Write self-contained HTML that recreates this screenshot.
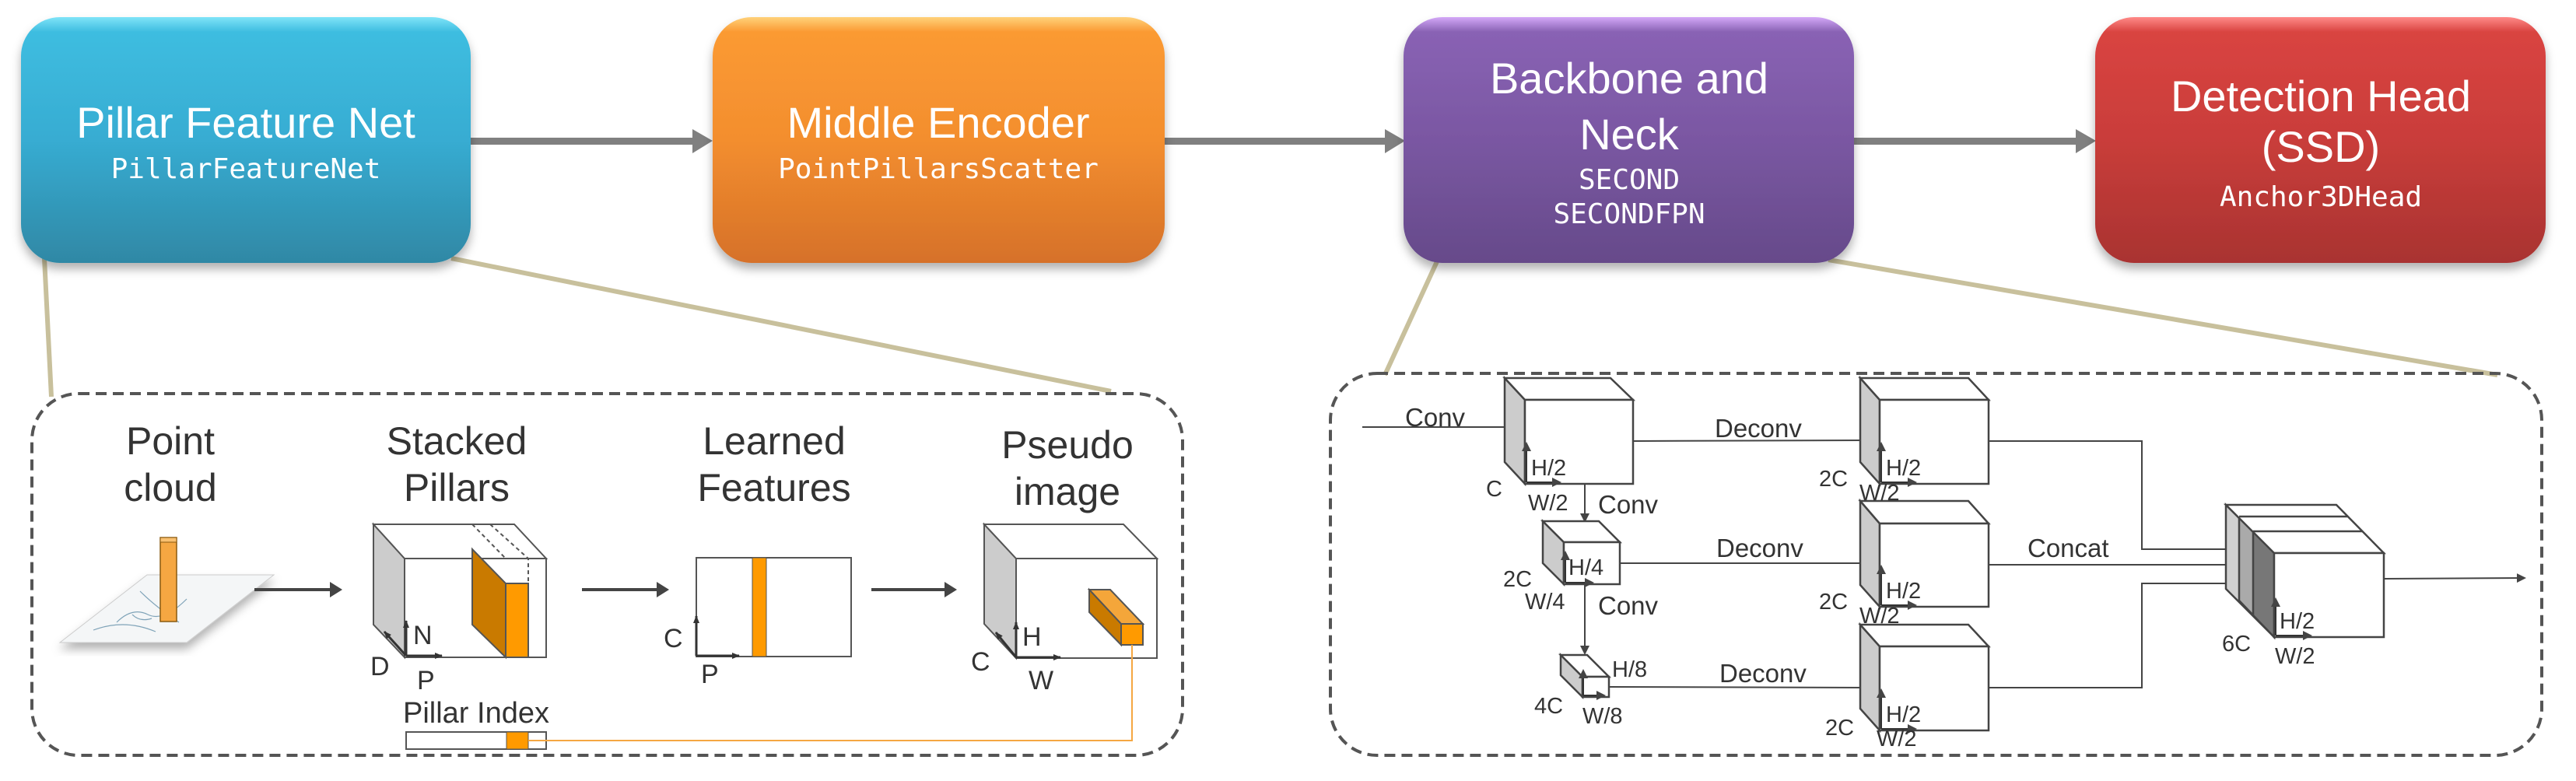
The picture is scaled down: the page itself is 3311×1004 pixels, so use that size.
<!DOCTYPE html>
<html><head><meta charset="utf-8"><style>
html,body{margin:0;padding:0;background:#fff;}
svg{display:block;}
.t{font-family:"Liberation Sans",sans-serif;fill:#fff;text-anchor:middle;}
.m{font-family:"DejaVu Sans Mono","Liberation Mono",monospace;fill:#fff;text-anchor:middle;}
.l{font-family:"Liberation Sans",sans-serif;fill:#333;text-anchor:middle;}
.s{font-family:"Liberation Sans",sans-serif;fill:#333;}
</style></head><body>
<svg width="3311" height="1004" viewBox="0 0 3311 1004" xmlns="http://www.w3.org/2000/svg">
<defs>
<linearGradient id="gb" x1="0" y1="0" x2="0" y2="1"><stop offset="0" stop-color="#7fe4f8"/><stop offset="0.06" stop-color="#3ebde0"/><stop offset="0.5" stop-color="#37acd2"/><stop offset="1" stop-color="#2f88a5"/></linearGradient>
<linearGradient id="go" x1="0" y1="0" x2="0" y2="1"><stop offset="0" stop-color="#ffd27a"/><stop offset="0.06" stop-color="#fb9a33"/><stop offset="0.5" stop-color="#f38e2e"/><stop offset="1" stop-color="#d6712a"/></linearGradient>
<linearGradient id="gp" x1="0" y1="0" x2="0" y2="1"><stop offset="0" stop-color="#d4a8f8"/><stop offset="0.06" stop-color="#8962b4"/><stop offset="0.5" stop-color="#7a57a2"/><stop offset="1" stop-color="#664a8a"/></linearGradient>
<linearGradient id="gr" x1="0" y1="0" x2="0" y2="1"><stop offset="0" stop-color="#ff8a88"/><stop offset="0.06" stop-color="#d94441"/><stop offset="0.5" stop-color="#c93d3a"/><stop offset="1" stop-color="#a93331"/></linearGradient>
<filter id="sh" x="-10%" y="-10%" width="120%" height="130%"><feDropShadow dx="0" dy="8" stdDeviation="6" flood-color="#000" flood-opacity="0.3"/></filter>
<marker id="ah" markerWidth="6" markerHeight="6" refX="5" refY="3" orient="auto" markerUnits="strokeWidth"><path d="M0,0 L6,3 L0,6 z" fill="#444"/></marker>
<marker id="as" markerWidth="10" markerHeight="8" refX="9" refY="4" orient="auto" markerUnits="userSpaceOnUse"><path d="M0,0 L10,4 L0,8 z" fill="#333"/></marker>
</defs>

<g fill="#808080">
<rect x="600" y="177" width="295" height="9"/><path d="M890,166 L916,181 L890,197 z"/>
<rect x="1490" y="177" width="295" height="9"/><path d="M1780,166 L1806,181 L1780,197 z"/>
<rect x="2380" y="177" width="292" height="9"/><path d="M2668,166 L2694,181 L2668,197 z"/>
</g>

<g stroke="#c8c09c" stroke-width="6" fill="none">
<line x1="57" y1="332" x2="66" y2="510"/>
<line x1="580" y1="332" x2="1428" y2="503"/>
<line x1="1848" y1="334" x2="1780" y2="482"/>
<line x1="2350" y1="334" x2="3210" y2="482"/>
</g>

<g filter="url(#sh)">
<rect x="27" y="22" width="578" height="316" rx="50" fill="url(#gb)"/>
<rect x="916" y="22" width="581" height="316" rx="50" fill="url(#go)"/>
<rect x="1804" y="22" width="579" height="316" rx="50" fill="url(#gp)"/>
<rect x="2693" y="22" width="579" height="316" rx="50" fill="url(#gr)"/>
</g>
<text class="t" x="316" y="177" font-size="56">Pillar Feature Net</text>
<text class="m" x="316" y="229" font-size="36">PillarFeatureNet</text>
<text class="t" x="1206" y="177" font-size="56">Middle Encoder</text>
<text class="m" x="1206" y="229" font-size="36">PointPillarsScatter</text>
<text class="t" x="2094" y="120" font-size="56">Backbone and</text>
<text class="t" x="2094" y="192" font-size="56">Neck</text>
<text class="m" x="2094" y="243" font-size="36">SECOND</text>
<text class="m" x="2094" y="287" font-size="36">SECONDFPN</text>
<text class="t" x="2983" y="143" font-size="56">Detection Head</text>
<text class="t" x="2983" y="208" font-size="56">(SSD)</text>
<text class="m" x="2983" y="265" font-size="36">Anchor3DHead</text>

<rect x="41" y="506" width="1479" height="465" rx="60" fill="none" stroke="#555" stroke-width="4" stroke-dasharray="14 8"/>
<rect x="1710" y="480" width="1557" height="491" rx="60" fill="none" stroke="#555" stroke-width="4" stroke-dasharray="14 8"/>

<g font-size="50">
<text class="l" x="219" y="584">Point</text><text class="l" x="219" y="644">cloud</text>
<text class="l" x="587" y="584">Stacked</text><text class="l" x="587" y="644">Pillars</text>
<text class="l" x="995" y="584">Learned</text><text class="l" x="995" y="644">Features</text>
<text class="l" x="1372" y="589">Pseudo</text><text class="l" x="1372" y="649">image</text>
</g>

<path d="M189,739 L352,739 L240,826 L77,826 z" fill="#f4f6f7" stroke="#ccc" stroke-width="1" filter="url(#sh)"/>
<g stroke="#7fa3b8" stroke-width="1.2" fill="none">
<path d="M150,800 Q170,780 190,790 T240,770"/><path d="M120,810 Q160,795 200,812"/><path d="M180,760 Q200,780 230,800"/><path d="M170,790 q10,10 25,5"/>
</g>
<rect x="206" y="691" width="21" height="108" fill="#f5a742" stroke="#8a5a10" stroke-width="1.5"/>
<rect x="206" y="691" width="21" height="6" fill="#f9c070" stroke="#8a5a10" stroke-width="1"/>

<g stroke="#444" stroke-width="4" fill="#444">
<line x1="327" y1="758" x2="426" y2="758"/><path d="M424,748 L440,758 L424,768 z" stroke="none"/>
<line x1="748" y1="758" x2="846" y2="758"/><path d="M844,748 L860,758 L844,768 z" stroke="none"/>
<line x1="1120" y1="758" x2="1216" y2="758"/><path d="M1214,748 L1230,758 L1214,768 z" stroke="none"/>
</g>

<g stroke="#555" stroke-width="2">
<path d="M480,674 L520,718 L520,845 L480,803 z" fill="#ccc"/>
<path d="M480,674 L661,674 L702,718 L520,718 z" fill="#fff"/>
<rect x="520" y="718" width="182" height="127" fill="#fff"/>
<path d="M607,674 L650,718" fill="none" stroke-dasharray="5 4"/>
<path d="M630,674 L679,718 L679,750" fill="none" stroke-dasharray="5 4"/>
<path d="M607,706 L650,750 L650,845 L607,803 z" fill="#c97a00"/>
<rect x="650" y="750" width="29" height="95" fill="#ff9a00"/>
</g>
<g stroke="#333" stroke-width="3" fill="none">
<line x1="522" y1="843" x2="522" y2="798" marker-end="url(#as)"/>
<line x1="522" y1="843" x2="568" y2="843" marker-end="url(#as)"/>
<line x1="522" y1="843" x2="494" y2="812" marker-end="url(#as)"/>
</g>
<g font-size="34"><text class="s" x="531" y="828">N</text><text class="s" x="476" y="868">D</text><text class="s" x="536" y="886">P</text></g>

<rect x="895" y="717" width="199" height="127" fill="#fff" stroke="#555" stroke-width="2"/>
<rect x="967" y="717" width="18" height="127" fill="#ff9a00" stroke="#555" stroke-width="1"/>
<g stroke="#333" stroke-width="3" fill="none">
<line x1="895" y1="843" x2="895" y2="792" marker-end="url(#as)"/>
<line x1="895" y1="843" x2="950" y2="843" marker-end="url(#as)"/>
</g>
<g font-size="34"><text class="s" x="853" y="832">C</text><text class="s" x="901" y="878">P</text></g>

<g stroke="#555" stroke-width="2">
<path d="M1265,674 L1306,718 L1306,846 L1265,802 z" fill="#ccc"/>
<path d="M1265,674 L1444,674 L1487,718 L1306,718 z" fill="#fff"/>
<rect x="1306" y="718" width="181" height="128" fill="#fff"/>
<path d="M1400,758 L1427,758 L1469,802 L1441,802 z" fill="#f4a63a"/>
<path d="M1400,758 L1441,802 L1441,829 L1400,787 z" fill="#c97a00"/>
<rect x="1441" y="802" width="28" height="27" fill="#ff9a00"/>
</g>
<g stroke="#333" stroke-width="3" fill="none">
<line x1="1306" y1="845" x2="1306" y2="800" marker-end="url(#as)"/>
<line x1="1306" y1="845" x2="1363" y2="845" marker-end="url(#as)"/>
<line x1="1306" y1="845" x2="1280" y2="813" marker-end="url(#as)"/>
</g>
<g font-size="34"><text class="s" x="1314" y="830">H</text><text class="s" x="1248" y="862">C</text><text class="s" x="1322" y="886">W</text></g>

<text class="l" x="612" y="929" font-size="38">Pillar Index</text>
<rect x="522" y="941" width="180" height="22" fill="#fff" stroke="#555" stroke-width="2"/>
<rect x="651" y="941" width="28" height="22" fill="#ff9a00" stroke="#555" stroke-width="1"/>
<polyline points="679,952 1455,952 1455,829" fill="none" stroke="#f5a742" stroke-width="2"/>

<g stroke="#444" stroke-width="2" fill="none">
<line x1="1751" y1="549" x2="1943" y2="549" marker-end="url(#ah)"/>
<line x1="2099" y1="567" x2="2400" y2="566" marker-end="url(#ah)"/>
<line x1="2082" y1="724" x2="2400" y2="724" marker-end="url(#ah)"/>
<line x1="2068" y1="883" x2="2404" y2="884" marker-end="url(#ah)"/>
<line x1="2037" y1="622" x2="2037" y2="670" marker-end="url(#ah)"/>
<line x1="2037" y1="751" x2="2037" y2="840" marker-end="url(#ah)"/>
<polyline points="2556,567 2753,567 2753,706 2870,706" marker-end="url(#ah)"/>
<line x1="2556" y1="726" x2="2890" y2="726" marker-end="url(#ah)"/>
<polyline points="2556,884 2753,884 2753,750 2906,750" marker-end="url(#ah)"/>
<line x1="3064" y1="744" x2="3245" y2="743" marker-end="url(#ah)"/>
</g>

<g stroke="#444" stroke-width="2.5">
<path d="M1934,486 L1960,514 L1960,622 L1934,594 z" fill="#ccc"/>
<path d="M1934,486 L2070,486 L2099,514 L1960,514 z" fill="#fff"/>
<rect x="1960" y="514" width="139" height="108" fill="#fff"/>
<path d="M1983,670 L2010,697 L2010,751 L1983,724 z" fill="#ccc"/>
<path d="M1983,670 L2055,670 L2082,697 L2010,697 z" fill="#fff"/>
<rect x="2010" y="697" width="72" height="54" fill="#fff"/>
<path d="M2006,842 L2034,870 L2034,896 L2006,868 z" fill="#ccc"/>
<path d="M2006,842 L2040,842 L2068,870 L2034,870 z" fill="#fff"/>
<rect x="2034" y="870" width="34" height="26" fill="#fff"/>
<path d="M2391,486 L2416,514 L2416,622 L2391,594 z" fill="#ccc"/>
<path d="M2391,486 L2530,486 L2556,514 L2416,514 z" fill="#fff"/>
<rect x="2416" y="514" width="140" height="108" fill="#fff"/>
<path d="M2391,644 L2416,673 L2416,780 L2391,752 z" fill="#ccc"/>
<path d="M2391,644 L2530,644 L2556,673 L2416,673 z" fill="#fff"/>
<rect x="2416" y="673" width="140" height="107" fill="#fff"/>
<path d="M2391,803 L2416,831 L2416,939 L2391,911 z" fill="#ccc"/>
<path d="M2391,803 L2530,803 L2556,831 L2416,831 z" fill="#fff"/>
<rect x="2416" y="831" width="140" height="108" fill="#fff"/>
<path d="M2861,649 L2923,711 L2923,819 L2861,757 z" fill="#d0d0d0"/>
<path d="M2878,664 L2923,711 L2923,819 L2878,772 z" fill="#aaa"/>
<path d="M2896,683 L2923,711 L2923,819 L2896,791 z" fill="#777"/>
<path d="M2861,649 L3003,649 L3064,711 L2923,711 z" fill="#fff"/>
<line x1="2878" y1="664" x2="3017" y2="664"/>
<line x1="2896" y1="683" x2="3036" y2="683"/>
<rect x="2923" y="711" width="141" height="108" fill="#fff"/>
</g>
<g stroke="#333" stroke-width="2" fill="none">
<line x1="1962" y1="620" x2="1962" y2="570" marker-end="url(#ah)"/><line x1="1962" y1="620" x2="2005" y2="620" marker-end="url(#ah)"/>
<line x1="2012" y1="749" x2="2012" y2="710" marker-end="url(#ah)"/><line x1="2012" y1="749" x2="2047" y2="749" marker-end="url(#ah)"/>
<line x1="2035" y1="894" x2="2035" y2="862" marker-end="url(#ah)"/><line x1="2035" y1="894" x2="2062" y2="894" marker-end="url(#ah)"/>
<line x1="2418" y1="620" x2="2418" y2="570" marker-end="url(#ah)"/><line x1="2418" y1="620" x2="2462" y2="620" marker-end="url(#ah)"/>
<line x1="2418" y1="778" x2="2418" y2="728" marker-end="url(#ah)"/><line x1="2418" y1="778" x2="2462" y2="778" marker-end="url(#ah)"/>
<line x1="2418" y1="937" x2="2418" y2="887" marker-end="url(#ah)"/><line x1="2418" y1="937" x2="2462" y2="937" marker-end="url(#ah)"/>
<line x1="2925" y1="817" x2="2925" y2="770" marker-end="url(#ah)"/><line x1="2925" y1="817" x2="2970" y2="817" marker-end="url(#ah)"/>
</g>
<g font-size="33">
<text class="s" x="1806" y="548">Conv</text>
<text class="s" x="2204" y="562">Deconv</text>
<text class="s" x="2206" y="716">Deconv</text>
<text class="s" x="2210" y="877">Deconv</text>
<text class="s" x="2606" y="716">Concat</text>
<text class="s" x="2054" y="660">Conv</text>
<text class="s" x="2054" y="790">Conv</text>
</g>
<g font-size="29">
<text class="s" x="1968" y="611">H/2</text><text class="s" x="1910" y="638">C</text><text class="s" x="1964" y="656">W/2</text>
<text class="s" x="2016" y="739">H/4</text><text class="s" x="1932" y="754">2C</text><text class="s" x="1960" y="783">W/4</text>
<text class="s" x="2072" y="870">H/8</text><text class="s" x="1972" y="917">4C</text><text class="s" x="2034" y="930">W/8</text>
<text class="s" x="2424" y="611">H/2</text><text class="s" x="2338" y="625">2C</text><text class="s" x="2390" y="643">W/2</text>
<text class="s" x="2424" y="769">H/2</text><text class="s" x="2338" y="783">2C</text><text class="s" x="2390" y="801">W/2</text>
<text class="s" x="2424" y="928">H/2</text><text class="s" x="2346" y="945">2C</text><text class="s" x="2412" y="959">W/2</text>
<text class="s" x="2930" y="808">H/2</text><text class="s" x="2856" y="837">6C</text><text class="s" x="2924" y="853">W/2</text>
</g>
</svg>
</body></html>
